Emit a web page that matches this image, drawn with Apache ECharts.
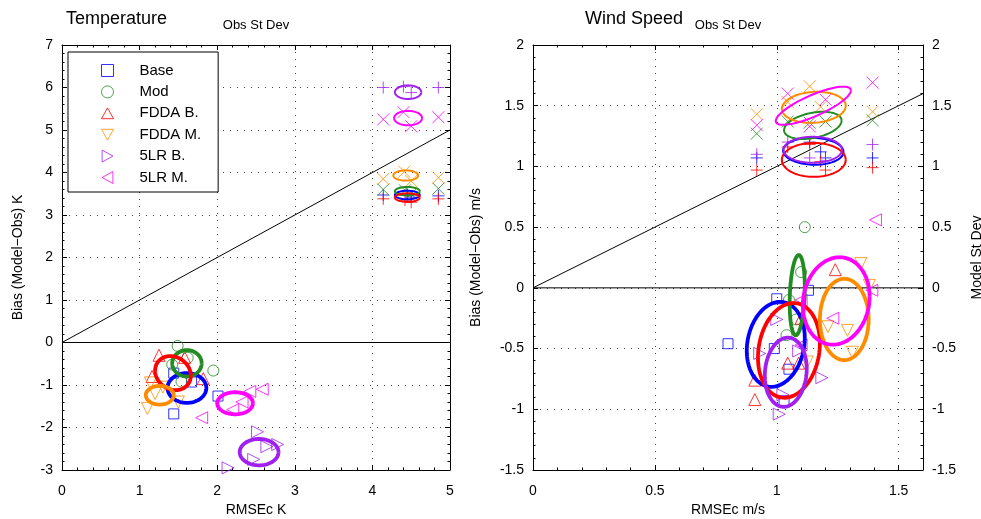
<!DOCTYPE html>
<html><head><meta charset="utf-8">
<script src="https://cdn.jsdelivr.net/npm/echarts@6/dist/echarts.min.js"></script>
<style>html,body{margin:0;padding:0;background:#fff}#c{width:981px;height:519px}</style>
</head><body><div id="c"></div>
<script>
// ---------- names ----------
const modelNames = ['Base', 'Mod', 'FDDA B.', 'FDDA M.', '5LR B.', '5LR M.'];

// ---------- Temperature: bias vs RMSEc (K) ----------
const tempBiasBase = [[1.44,-0.72],[1.67,-0.93],[2.01,-1.26],[1.44,-1.68]];
const tempBiasMod = [[1.49,-0.08],[1.62,-0.36],[1.95,-0.66],[1.54,-0.92],[1.42,-0.52]];
const tempBiasFddaB = [[1.25,-0.3],[1.16,-0.8],[1.82,-0.85],[1.58,-0.35]];
const tempBiasFddaM = [[1.1,-1.55],[1.2,-1.2],[1.5,-1.4],[1.14,-0.95],[1.3,-1.05]];
const tempBias5lrB = [[2.52,-2.1],[2.78,-2.4],[2.14,-2.95],[2.47,-2.75],[2.64,-2.45]];
const tempBias5lrM = [[1.8,-1.77],[2.42,-1.15],[2.58,-1.1],[2.32,-1.4],[2.2,-1.58]];
// ellipses: [cx, cy, rx, ry, rho]
const tempBiasEllipses = [[1.61,-1.07,0.25,0.35,0],[1.61,-0.49,0.19,0.31,0],[1.43,-0.72,0.23,0.4,-0.15],[1.26,-1.24,0.18,0.22,0],[2.54,-2.58,0.25,0.31,0],[2.23,-1.43,0.23,0.26,0]];

// ---------- Temperature: obs st dev vs model st dev ----------
const tempStdBase = [[4.14,3.47],[4.45,3.48],[4.5,3.42],[4.85,3.45]];
const tempStdMod = [[4.14,3.6],[4.42,3.58],[4.5,3.5],[4.85,3.62]];
const tempStdFddaB = [[4.14,3.38],[4.42,3.35],[4.5,3.3],[4.85,3.38]];
const tempStdFddaM = [[4.14,3.85],[4.41,4.02],[4.5,3.8],[4.85,3.88]];
const tempStd5lrB = [[4.14,6.0],[4.4,6.02],[4.5,5.88],[4.85,6.0]];
const tempStd5lrM = [[4.14,5.25],[4.4,5.42],[4.5,5.09],[4.85,5.3]];
const tempStdEllipses = [[4.45,3.47,0.16,0.1,0],[4.45,3.56,0.16,0.1,0],[4.45,3.41,0.16,0.1,0],[4.43,3.93,0.16,0.12,0],[4.46,5.89,0.17,0.16,0],[4.46,5.28,0.18,0.17,0]];

// ---------- Wind speed: bias vs RMSEc (m/s) ----------
const windBiasBase = [[0.8,-0.46],[1.0,-0.09],[1.13,-0.02],[0.99,-0.5],[1.05,-0.67],[1.03,-0.93]];
const windBiasMod = [[1.115,0.5],[1.1,0.13],[1.05,-0.1],[1.04,-0.39],[1.08,-0.26]];
const windBiasFddaB = [[1.24,0.15],[0.91,-0.76],[0.91,-0.92],[1.045,-0.62],[1.09,-0.62],[1.1,-0.25]];
const windBiasFddaM = [[1.345,0.2],[1.38,0.02],[1.29,-0.35],[1.21,-0.32],[1.31,-0.53],[1.125,-0.61]];
const windBias5lrB = [[1.0,-0.26],[0.93,-0.54],[1.185,-0.74],[1.025,-0.88],[1.01,-1.04],[1.09,-0.52]];
const windBias5lrM = [[1.405,0.56],[1.39,-0.02],[1.23,-0.25],[1.1,-0.1],[1.1,-0.47]];
const windBiasEllipses = [[0.996,-0.465,0.119,0.35,0.15],[1.084,-0.06,0.031,0.33,0.2],[1.05,-0.515,0.127,0.39,0.15],[1.277,-0.26,0.1,0.335,0],[1.037,-0.695,0.086,0.285,0.1],[1.244,-0.108,0.137,0.36,0.1]];

// ---------- Wind speed: obs st dev vs model st dev ----------
const windStdBase = [[0.918,1.07],[1.135,1.2],[1.18,1.12],[1.2,1.07],[1.393,1.07]];
const windStdMod = [[0.918,1.27],[1.045,1.37],[1.135,1.36],[1.2,1.37],[1.393,1.38]];
const windStdFddaB = [[0.918,0.97],[1.045,1.16],[1.135,1.18],[1.18,1.04],[1.2,0.97],[1.393,0.99]];
const windStdFddaM = [[0.918,1.43],[1.045,1.53],[1.135,1.66],[1.18,1.49],[1.393,1.45]];
const windStd5lrB = [[0.918,1.1],[1.045,1.2],[1.135,1.07],[1.2,1.05],[1.393,1.18]];
const windStd5lrM = [[0.918,1.34],[1.045,1.6],[1.135,1.33],[1.2,1.55],[1.393,1.69]];
const windStdEllipses = [[1.15,1.125,0.124,0.111,-0.05],[1.148,1.338,0.118,0.112,0.35],[1.152,1.054,0.131,0.14,0],[1.152,1.487,0.131,0.128,0.1],[1.148,1.137,0.12,0.107,0],[1.15,1.5,0.154,0.157,0.8]];

// reference lines (identity and zero)
const tempDiag = [[0,0],[5,5]];
const tempZero = [[0,0],[5,0]];
const windDiag = [[0,0],[1.6,1.6]];
const windZero = [[0,0],[1.6,0]];

// ---------- styles ----------
const colors = ['#0000ff', '#228b22', '#ff0000', '#ff8c00', '#a020f0', '#ff00ff'];
const biasSymbols = [
  'path://M0,0L10,0L10,10L0,10Z',
  'circle',
  'path://M5,0L10,9L0,9Z',
  'path://M0,0L10,0L5,9Z',
  'path://M0,0L9,5L0,10Z',
  'path://M9,0L0,5L9,10Z'
];
const biasSizes = [10, 11, 12, 12, 12, 12];
const PLUS = 'path://M5,0L5,10M0,5L10,5';
const CROSS = 'path://M0,0L10,10M10,0L0,10';
const stdSymbols = [PLUS, CROSS, PLUS, CROSS, PLUS, CROSS];
const FONT = 'Liberation Sans';

const tempBias = [tempBiasBase, tempBiasMod, tempBiasFddaB, tempBiasFddaM, tempBias5lrB, tempBias5lrM];
const tempStd = [tempStdBase, tempStdMod, tempStdFddaB, tempStdFddaM, tempStd5lrB, tempStd5lrM];
const windBias = [windBiasBase, windBiasMod, windBiasFddaB, windBiasFddaM, windBias5lrB, windBias5lrM];
const windStd = [windStdBase, windStdMod, windStdFddaB, windStdFddaM, windStd5lrB, windStd5lrM];

function ellipseRender(width) {
  return function (params, api) {
    const cx = api.value(0), cy = api.value(1), rx = api.value(2), ry = api.value(3), rho = api.value(4);
    const s = Math.sqrt(Math.max(0, 1 - rho * rho));
    const pts = [];
    for (let i = 0; i <= 96; i++) {
      const t = 2 * Math.PI * i / 96;
      pts.push(api.coord([cx + rx * Math.cos(t), cy + ry * (rho * Math.cos(t) + s * Math.sin(t))]));
    }
    return { type: 'polyline', shape: { points: pts }, style: { fill: null, stroke: api.visual('color'), lineWidth: width } };
  };
}

function axis(opts) {
  return Object.assign({
    type: 'value', scale: false,
    axisLine: { show: true, onZero: false, lineStyle: { color: '#000', width: 1 } },
    axisTick: { show: true, inside: true, length: 5, lineStyle: { color: '#000' } },
    minorTick: { show: true, splitNumber: 5, length: 2.5, lineStyle: { color: '#000' } },
    axisLabel: { show: false, color: '#000', fontFamily: FONT, fontSize: 14 },
    splitLine: { show: false },
    nameTextStyle: { color: '#000', fontFamily: FONT, fontSize: 14 },
  }, opts);
}
const gridLine = { show: true, lineStyle: { color: '#444', type: [1, 6], width: 1 } };
const xLab = { show: true, color: '#000', fontFamily: FONT, fontSize: 14, margin: 14 };
const yLab = { show: true, color: '#000', fontFamily: FONT, fontSize: 14, margin: 9 };

const xAxes = [
  axis({ gridIndex: 0, min: 0, max: 5, interval: 1, position: 'bottom', axisLabel: xLab, splitLine: gridLine, name: 'RMSEc K', nameLocation: 'middle', nameGap: 32 }),
  axis({ gridIndex: 0, min: 0, max: 5, interval: 1, position: 'top', name: 'Obs St Dev', nameLocation: 'middle', nameGap: 13, nameTextStyle: { color: '#000', fontFamily: FONT, fontSize: 13 } }),
  axis({ gridIndex: 1, min: 0, max: 1.6, interval: 0.5, position: 'bottom', axisLabel: Object.assign({ showMaxLabel: false }, xLab), splitLine: gridLine, name: 'RMSEc m/s', nameLocation: 'middle', nameGap: 32 }),
  axis({ gridIndex: 1, min: 0, max: 1.6, interval: 0.5, position: 'top', name: 'Obs St Dev', nameLocation: 'middle', nameGap: 13, nameTextStyle: { color: '#000', fontFamily: FONT, fontSize: 13 } }),
];
const yAxes = [
  axis({ gridIndex: 0, min: -3, max: 7, interval: 1, position: 'left', axisLabel: yLab, splitLine: gridLine, name: 'Bias (Model\u2212Obs) K', nameLocation: 'middle', nameGap: 37 }),
  axis({ gridIndex: 0, min: -3, max: 7, interval: 1, position: 'right' }),
  axis({ gridIndex: 1, min: -1.5, max: 2, interval: 0.5, position: 'left', axisLabel: yLab, splitLine: gridLine, name: 'Bias (Model\u2212Obs) m/s', nameLocation: 'middle', nameGap: 50 }),
  axis({ gridIndex: 1, min: -1.5, max: 2, interval: 0.5, position: 'right', axisLabel: yLab, name: 'Model St Dev', nameLocation: 'middle', nameGap: 47 }),
];

const series = [];
function addPanel(xi, yi, biasSets, stdSets, biasEll, stdEll, diag, zero) {
  series.push({ type: 'line', xAxisIndex: xi, yAxisIndex: yi, data: zero, symbol: 'none', lineStyle: { color: '#000', width: 1 }, z: 1, silent: true });
  series.push({ type: 'line', xAxisIndex: xi, yAxisIndex: yi, data: diag, symbol: 'none', lineStyle: { color: '#000', width: 1 }, z: 1, silent: true });
  for (let k = 0; k < 6; k++) {
    series.push({ type: 'scatter', name: modelNames[k], xAxisIndex: xi, yAxisIndex: yi, data: biasSets[k],
      symbol: biasSymbols[k], symbolSize: biasSizes[k],
      itemStyle: { color: 'rgba(0,0,0,0)', borderColor: colors[k], borderWidth: 1 }, z: 2 });
    series.push({ type: 'scatter', name: modelNames[k] + ' sd', xAxisIndex: xi, yAxisIndex: yi, data: stdSets[k],
      symbol: stdSymbols[k], symbolSize: 12,
      itemStyle: { color: 'rgba(0,0,0,0)', borderColor: colors[k], borderWidth: 1 }, z: 2 });
  }
  for (let k = 0; k < 6; k++) {
    series.push({ type: 'custom', name: modelNames[k] + ' ell', xAxisIndex: xi, yAxisIndex: yi, data: [biasEll[k]],
      encode: { x: 0, y: 1 }, renderItem: ellipseRender(3.8), itemStyle: { color: colors[k] }, z: 3, silent: true });
    series.push({ type: 'custom', name: modelNames[k] + ' ell2', xAxisIndex: xi, yAxisIndex: yi, data: [stdEll[k]],
      encode: { x: 0, y: 1 }, renderItem: ellipseRender(2), itemStyle: { color: colors[k] }, z: 3, silent: true });
  }
}
addPanel(0, 0, tempBias, tempStd, tempBiasEllipses, tempStdEllipses, tempDiag, tempZero);
addPanel(2, 2, windBias, windStd, windBiasEllipses, windStdEllipses, windDiag, windZero);

const chart = echarts.init(document.getElementById('c'), null, { renderer: 'canvas' });
chart.setOption({
  backgroundColor: '#fff',
  animation: false,
  textStyle: { fontFamily: FONT },
  title: [
    { text: 'Temperature', left: 61, top: 5, textStyle: { fontFamily: FONT, fontSize: 18, fontWeight: 'normal', color: '#000' } },
    { text: 'Wind Speed', left: 580, top: 5, textStyle: { fontFamily: FONT, fontSize: 18, fontWeight: 'normal', color: '#000' } },
  ],
  grid: [
    { left: 62, right: 531, top: 45, bottom: 49, containLabel: false, outerBoundsMode: 'none' },
    { left: 533, right: 58, top: 45, bottom: 49, containLabel: false, outerBoundsMode: 'none' },
  ],
  legend: {
    data: modelNames, orient: 'vertical', left: 68, top: 52,
    padding: [11, 17, 7, 33], itemGap: 6.4, itemWidth: 12, itemHeight: 12,
    backgroundColor: '#fff', borderColor: '#000', borderWidth: 1,
    itemStyle: { borderWidth: 1 },
    formatter: function (n) { return '{s|}' + n; },
    textStyle: { fontFamily: FONT, fontSize: 15, color: '#000', lineHeight: 15, rich: { s: { width: 21 } } },
    selectedMode: false, z: 10,
  },
  xAxis: xAxes,
  yAxis: yAxes,
  series: series,
});
</script></body></html>
